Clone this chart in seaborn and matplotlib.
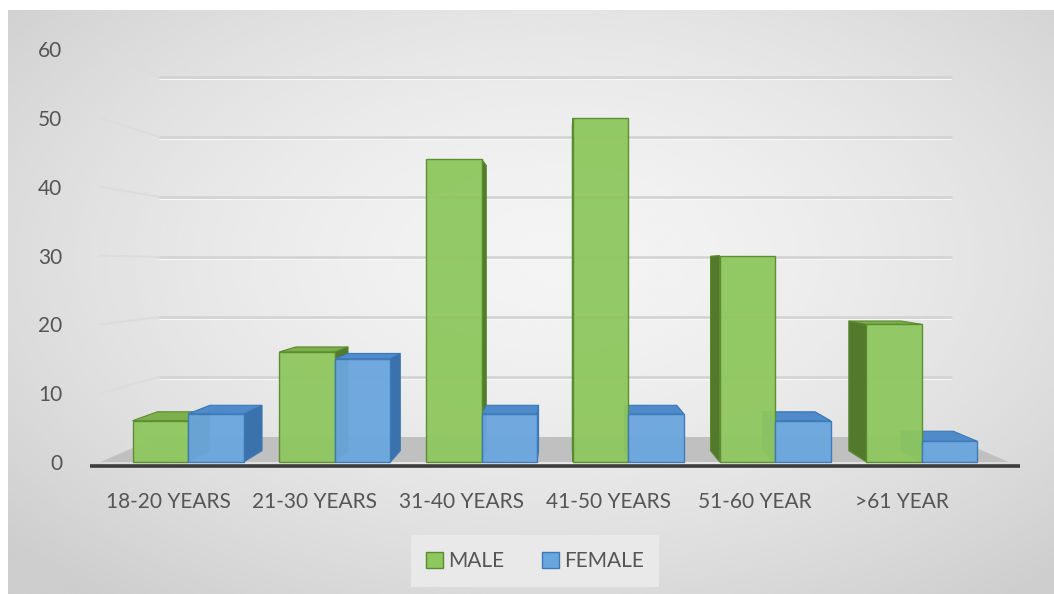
import numpy as np
import pandas as pd
import matplotlib
matplotlib.use("Agg")
import matplotlib.pyplot as plt
import seaborn as sns
from matplotlib.patches import Polygon, Patch
from matplotlib.transforms import ScaledTranslation

# ---- data -------------------------------------------------------------
age_groups = ["18-20 YEARS", "21-30 YEARS", "31-40 YEARS",
              "41-50 YEARS", "51-60 YEAR", ">61 YEAR"]
male = [6, 16, 44, 50, 30, 20]
female = [7, 15, 7, 7, 6, 3]
series = ["MALE", "FEMALE"]
y_ticks = [0, 10, 20, 30, 40, 50, 60]

df = pd.DataFrame({
    "group": age_groups * 2,
    "sex": [series[0]] * len(male) + [series[1]] * len(female),
    "count": male + female,
})

# ---- styling ----------------------------------------------------------
sns.set_theme(style="white")
plt.rcParams["font.family"] = ["Lato", "DejaVu Sans"]
TEXT = "#555555"
FS = 15

face = {"MALE": "#8EC75E", "FEMALE": "#6AA6DE"}
edge = {"MALE": "#5A8A2E", "FEMALE": "#3A78B8"}
side = {"MALE": "#52792C", "FEMALE": "#3C72AC"}
top = {"MALE": "#7BB04A", "FEMALE": "#4F8ACA"}

# perspective: vanishing point and depth ratios (data units)
VX, VY = 2.55, 28.4
R_BAR = 0.942      # back face of each bar
R_WALL = 0.872     # back wall


def proj(x, y, r):
    return (VX + (x - VX) * r, VY + (y - VY) * r)


fig = plt.figure(figsize=(10.54, 5.94), dpi=100)
fig.patch.set_facecolor("white")

# soft radial grey backdrop
bg = fig.add_axes([8 / 1054, 0, 1 - 8 / 1054, 1 - 10 / 594])
yy, xx = np.mgrid[-1:1:300j, -1:1:520j]
rad = np.sqrt(((xx - 0.05) / 1.05) ** 2 + ((yy + 0.15) / 1.1) ** 2)
shade = 0.955 - 0.15 * np.clip(rad / 1.35, 0, 1) ** 1.6
bg.imshow(shade, cmap="gray", vmin=0, vmax=1, aspect="auto",
          interpolation="bicubic")
bg.set_axis_off()

ax = fig.add_axes([90 / 1054, 0.2083, 930 / 1054, 0.7322])
ax.patch.set_alpha(0)

sns.barplot(data=df, x="group", y="count", hue="sex", order=age_groups,
            hue_order=series, palette=[face[s] for s in series],
            width=0.756, saturation=1, gap=0, legend=False, ax=ax,
            zorder=5)

XL, XR = -0.668, 5.668
ax.set_xlim(XL, XR)
ax.set_ylim(-1.2, 62)

# floor and back wall
fx0, fx1 = -0.6, 5.59
floor = [(fx0, 0), (fx1, 0), proj(fx1, 0, R_WALL), proj(fx0, 0, R_WALL)]
ax.add_patch(Polygon(floor, closed=True, facecolor="#c0c0c0",
                     edgecolor="none", zorder=1))
wl = proj(fx0, 0, R_WALL)[0]
wr = proj(fx1, 0, R_WALL)[0]
for v in y_ticks[1:]:
    yw = proj(0, v, R_WALL)[1]
    ax.plot([wl, wr], [yw, yw], color="#d2d2d2", lw=1.8, zorder=1)
    ax.plot([wl, wr], [yw - 0.3, yw - 0.3], color="#f8f8f8", lw=0.7,
            zorder=1)
    ax.plot([fx0, wl], [v, yw], color="#dcdcdc", lw=1.4, zorder=1)

# front edge of the floor
ax.plot([XL, XR], [-0.58, -0.58], color="#3c3c3c", lw=2.6, zorder=6,
        solid_capstyle="butt", clip_on=False)

# depth faces for each bar
for s, cont in zip(series, ax.containers):
    for bar in cont:
        bar.set_edgecolor(edge[s])
        bar.set_linewidth(1.0)
        bar.set_alpha(0.95)
        x0 = bar.get_x()
        x1 = x0 + bar.get_width()
        h = bar.get_height()
        if x1 <= VX:
            xe = x1
        elif x0 >= VX:
            xe = x0
        else:
            xe = None
        if xe is not None:
            poly = [(xe, 0), (xe, h), proj(xe, h, R_BAR), proj(xe, 0, R_BAR)]
            ax.add_patch(Polygon(poly, closed=True, facecolor=side[s],
                                 edgecolor=edge[s], lw=0.8, zorder=3))
        if h < VY:
            poly = [(x0, h), (x1, h), proj(x1, h, R_BAR), proj(x0, h, R_BAR)]
            ax.add_patch(Polygon(poly, closed=True, facecolor=top[s],
                                 edgecolor=edge[s], lw=0.8, zorder=4))

# axes text
ax.set_xlabel("")
ax.set_ylabel("")
ax.set_yticks(y_ticks)
ax.set_yticklabels([str(v) for v in y_ticks])
for sp in ax.spines.values():
    sp.set_visible(False)
ax.tick_params(axis="both", length=0, labelsize=FS, colors=TEXT)
ax.tick_params(axis="y", pad=20)
ax.tick_params(axis="x", pad=16)
shift = ScaledTranslation(-20 / 100, 0, fig.dpi_scale_trans)
for lab in ax.get_xticklabels():
    lab.set_transform(lab.get_transform() + shift)
ax.grid(False)

handles = [Patch(facecolor=face[s], edgecolor=edge[s], label=s)
           for s in series]
leg = fig.legend(handles=handles, loc="center", ncol=2,
                 bbox_to_anchor=(535 / 1054, 1 - 561 / 594),
                 frameon=True, fontsize=FS, handlelength=0.8,
                 handleheight=0.8, handletextpad=0.25, columnspacing=1.8,
                 borderpad=0.75, labelcolor=TEXT)
leg.get_frame().set_facecolor("#ebebeb")
leg.get_frame().set_edgecolor("none")
leg.get_frame().set_alpha(0.9)
leg.get_frame().set_boxstyle("square", pad=0.0)

fig.savefig("out.png", dpi=100)
